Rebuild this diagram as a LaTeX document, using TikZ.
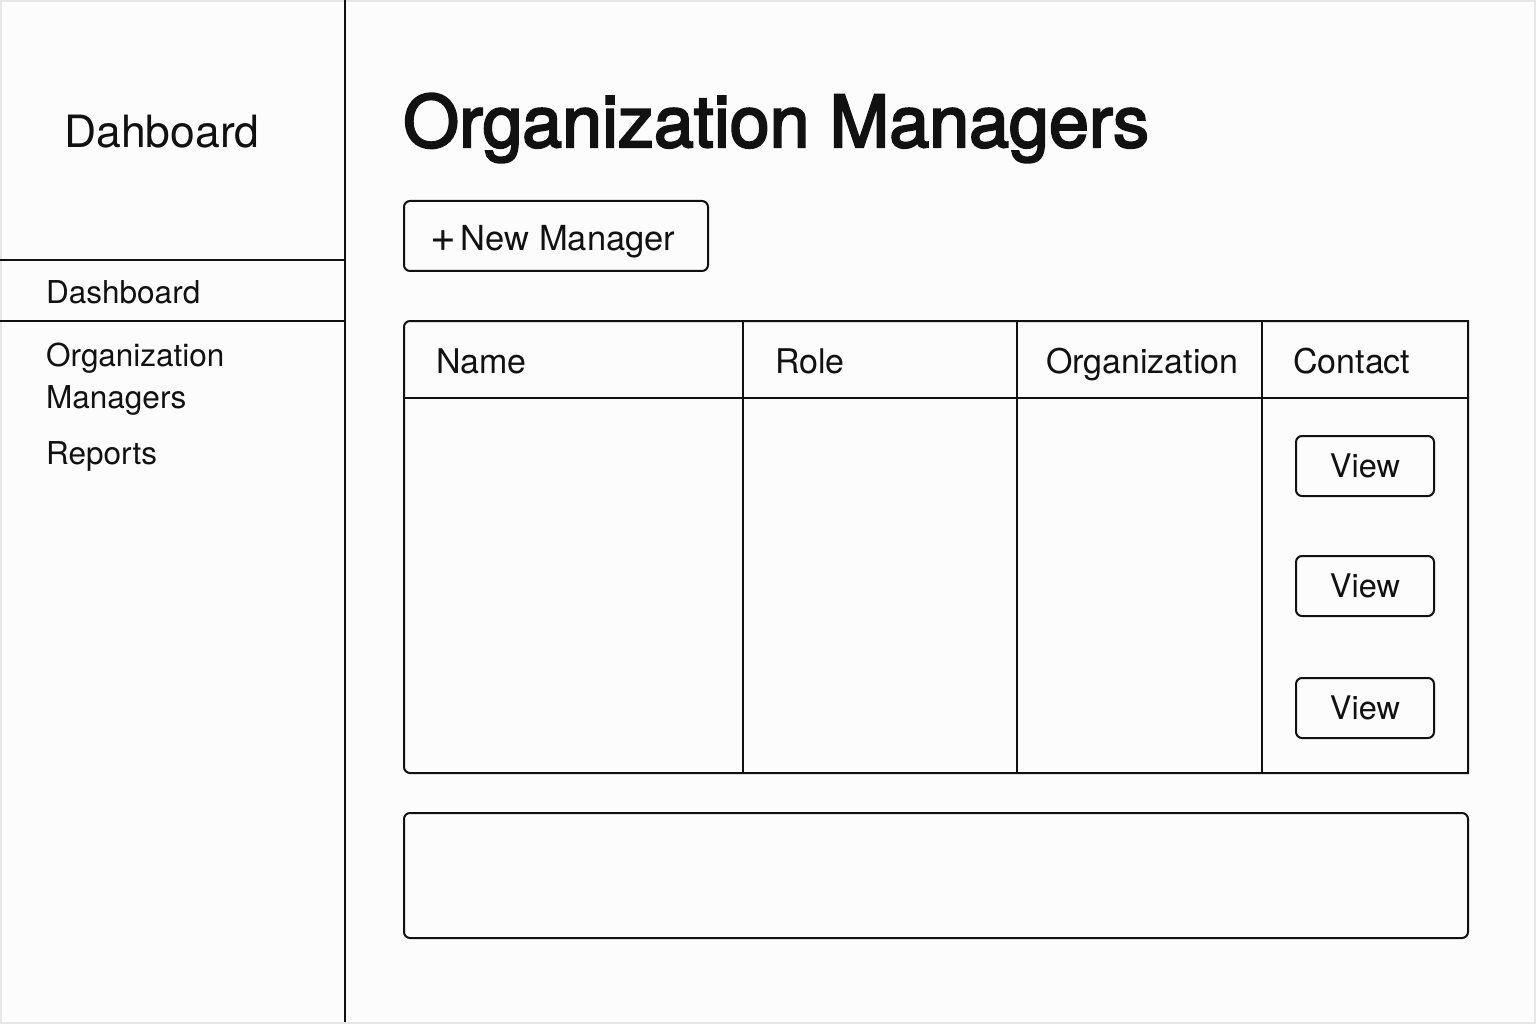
\documentclass[tikz,border=0pt]{standalone}
\usepackage{fontspec}
\setmainfont{TeX Gyre Heros}
\newfontfamily\titlefont{TeX Gyre Heros}[FakeBold=3]
\definecolor{ink}{HTML}{111111}
\definecolor{bg}{HTML}{FCFCFC}
\definecolor{edge}{HTML}{E6E6E6}
\begin{document}
\begin{tikzpicture}[x=1pt,y=-1pt,
  line/.style={draw=ink,line width=2pt},
  btn/.style={draw=ink,line width=2pt,rounded corners=6pt,inner sep=0pt},
  side/.style={anchor=base west,font=\fontsize{31.5}{38}\selectfont,text=ink,inner sep=0pt},
  head/.style={anchor=base west,font=\fontsize{34}{40}\selectfont,text=ink,inner sep=0pt},
  viewtxt/.style={font=\fontsize{32.5}{38}\selectfont,text=ink}]
\useasboundingbox (0,0) rectangle (1536,1024);
\fill[bg] (0,0) rectangle (1536,1024);
\draw[edge,line width=2pt] (1,1) rectangle (1535,1023);
% sidebar
\draw[line] (345,0) -- (345,1022);
\draw[line] (0,260) -- (345,260);
\draw[line] (0,321) -- (345,321);
\node[anchor=base,font=\fontsize{44.5}{52}\selectfont,text=ink,inner sep=0pt] (brand) at (162,148) {Dahboard};
\node[side] (navdash) at (46,303) {Dashboard};
\node[side] (navorg) at (46,366) {Organization};
\node[side] (navmgr) at (46,408) {Managers};
\node[side] (navrep) at (46,464) {Reports};
% title
\node[anchor=base west,font=\titlefont\fontsize{71.8}{80}\selectfont,text=ink,inner sep=0pt] (title) at (403,147) {Organization Managers};
% new manager button
\node[btn,minimum width=304pt,minimum height=70pt] (newbtn) at (556,236) {};
\node[anchor=base west,font=\fontsize{34.5}{40}\selectfont,text=ink,inner sep=0pt] (newtxt) at (430,251) {\raisebox{-1pt}{\fontsize{44}{44}\selectfont+}\kern5pt New Manager};
% table
\draw[line] (1468,321) -- (410,321) arc[start angle=270,end angle=180,radius=6] -- (404,767) arc[start angle=180,end angle=90,radius=6] -- (1468,773) -- cycle;
\draw[line] (404,398) -- (1468,398);
\draw[line] (743,321) -- (743,773);
\draw[line] (1017,321) -- (1017,773);
\draw[line] (1262,321) -- (1262,773);
\node[head] (hname) at (436,373) {Name};
\node[head] (hrole) at (775,373) {Role};
\node[head] (horg) at (1046,373) {Organization};
\node[head] (hcontact) at (1293,373) {Contact};
% view buttons
\node[btn,minimum width=138pt,minimum height=60pt] (view1) at (1365,466) {};
\node[btn,minimum width=138pt,minimum height=60pt] (view2) at (1365,586) {};
\node[btn,minimum width=138pt,minimum height=60pt] (view3) at (1365,708) {};
\node[viewtxt] at (view1) {View};
\node[viewtxt] at (view2) {View};
\node[viewtxt] at (view3) {View};
% footer box
\node[btn,minimum width=1064pt,minimum height=125pt] (footer) at (936,875.5) {};
\end{tikzpicture}
\end{document}
